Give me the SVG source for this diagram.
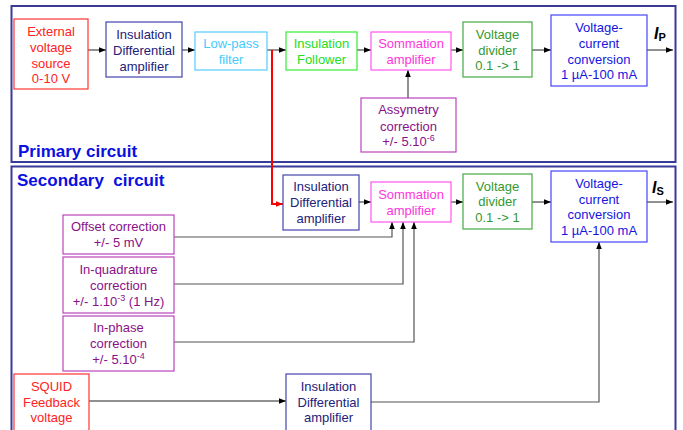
<svg xmlns="http://www.w3.org/2000/svg" width="683" height="430" viewBox="0 0 683 430">
<defs>
<marker id="ah" viewBox="0 0 10 10" refX="10" refY="5" markerWidth="7" markerHeight="7" markerUnits="userSpaceOnUse" orient="auto"><path d="M0,1 L10,5 L0,9 z" fill="#000"/></marker>
<marker id="ahr" viewBox="0 0 10 10" refX="10" refY="5" markerWidth="7" markerHeight="7" markerUnits="userSpaceOnUse" orient="auto"><path d="M0,1 L10,5 L0,9 z" fill="#e00"/></marker>
<style>
text{font-family:"Liberation Sans",Arial,sans-serif;font-size:13px;text-anchor:middle}
.box{fill:#fff;stroke-width:1.2}
.frame{fill:none;stroke:#3a3a9a;stroke-width:2}
.title{font-size:17px;font-weight:bold;fill:#0a10e0;text-anchor:start}
.c{fill:none;stroke:#555;stroke-width:1.2}
.ca{fill:none;stroke:#222;stroke-width:1;marker-end:url(#ah)}
.red{stroke:#f33}.tred{fill:#f22}
.navy{stroke:#4444aa}.tnavy{fill:#22227a}
.cyan{stroke:#5cf}.tcyan{fill:#4cf}
.lg{stroke:#3e3}.tlg{fill:#2d2}
.pink{stroke:#f5e}.tpink{fill:#f3d}
.dg{stroke:#4a4}.tdg{fill:#393}
.blue{stroke:#44f}.tblue{fill:#1515e0}
.pur{stroke:#b4b}.tpur{fill:#818}
.lbl{font-size:16px;font-weight:bold;font-style:italic;text-anchor:start}
.sub{font-size:11px;font-weight:bold;font-style:normal}
</style>
</defs>
<rect class="frame" x="11.5" y="6" width="664" height="156"/>
<rect class="frame" x="11.5" y="166.5" width="664" height="270"/>
<text class="title" x="18" y="157">Primary circuit</text>
<text class="title" x="17" y="186" xml:space="preserve">Secondary  circuit</text>

<g id="connectors">
<line class="ca" x1="88" y1="50" x2="106" y2="50"/>
<line class="ca" x1="182" y1="50" x2="195" y2="50"/>
<line class="ca" x1="267" y1="50" x2="286" y2="50"/>
<line class="ca" x1="357" y1="50" x2="371" y2="50"/>
<line class="ca" x1="451" y1="50" x2="463" y2="50"/>
<line class="ca" x1="532" y1="50" x2="551" y2="50"/>
<line class="ca" x1="647" y1="50" x2="673" y2="50"/>
<line class="ca" x1="408" y1="98" x2="408" y2="70"/>
<path d="M272,50 V204 H283" fill="none" stroke="#f00" stroke-width="2" marker-end="url(#ahr)"/>
<line class="ca" x1="359" y1="202" x2="371" y2="202"/>
<line class="ca" x1="451" y1="202" x2="463" y2="202"/>
<line class="ca" x1="532" y1="202" x2="551" y2="202"/>
<line class="ca" x1="647" y1="202" x2="673" y2="202"/>
<path class="c" d="M174,237 H392 V226"/>
<line class="ca" x1="392" y1="228" x2="392" y2="222"/>
<path class="c" d="M174,284 H403 V226"/>
<line class="ca" x1="403" y1="228" x2="403" y2="222"/>
<path class="c" d="M174,342 H414 V226" stroke="#888"/>
<line class="ca" x1="414" y1="228" x2="414" y2="222"/>
<line class="ca" x1="89" y1="401" x2="286" y2="401"/>
<path class="c" d="M371,402 H599 V246"/>
<line class="ca" x1="599" y1="248" x2="599" y2="242"/>
</g>

<g id="ext"><rect class="box red" x="14" y="19" width="74" height="70"/>
<text class="tred" x="51" y="35.5">External</text><text class="tred" x="51" y="51.5">voltage</text><text class="tred" x="51" y="67.5">source</text><text class="tred" x="51" y="83">0-10 V</text></g>
<g id="ida1"><rect class="box navy" x="106" y="22" width="76" height="55"/>
<text class="tnavy" x="144" y="39">Insulation</text><text class="tnavy" x="144" y="55">Differential</text><text class="tnavy" x="144" y="70.5">amplifier</text></g>
<g id="lpf"><rect class="box cyan" x="195" y="32" width="72" height="38"/>
<text class="tcyan" x="231" y="48">Low-pass</text><text class="tcyan" x="231" y="64">filter</text></g>
<g id="fol"><rect class="box lg" x="286" y="32" width="71" height="38"/>
<text class="tlg" x="321.5" y="48">Insulation</text><text class="tlg" x="321.5" y="64">Follower</text></g>
<g id="som1"><rect class="box pink" x="371" y="32" width="80" height="38"/>
<text class="tpink" x="411" y="48">Sommation</text><text class="tpink" x="411" y="64">amplifier</text></g>
<g id="vd1"><rect class="box dg" x="463" y="22" width="69" height="55"/>
<text class="tdg" x="497.5" y="39">Voltage</text><text class="tdg" x="497.5" y="54.5">divider</text><text class="tdg" x="497.5" y="70">0.1 -&gt; 1</text></g>
<g id="vc1"><rect class="box blue" x="551" y="15" width="96" height="71"/>
<text class="tblue" x="599" y="32">Voltage-</text><text class="tblue" x="599" y="47.5">current</text><text class="tblue" x="599" y="63.5">conversion</text><text class="tblue" x="599" y="79">1 µA-100 mA</text></g>
<g id="ip"><text class="lbl" x="654" y="39">I<tspan class="sub" dy="2">P</tspan></text></g>
<g id="asym"><rect class="box pur" x="361" y="98" width="95" height="54"/>
<text class="tpur" x="408.5" y="114">Assymetry</text><text class="tpur" x="408.5" y="130.5">correction</text><text class="tpur" x="408.5" y="146">+/- 5.10<tspan font-size="9" dy="-5">-6</tspan></text></g>

<g id="ida2"><rect class="box navy" x="283" y="175" width="76" height="55"/>
<text class="tnavy" x="321" y="191">Insulation</text><text class="tnavy" x="321" y="207">Differential</text><text class="tnavy" x="321" y="223">amplifier</text></g>
<g id="som2"><rect class="box pink" x="371" y="182" width="80" height="40"/>
<text class="tpink" x="411" y="199">Sommation</text><text class="tpink" x="411" y="214.5">amplifier</text></g>
<g id="vd2"><rect class="box dg" x="463" y="174" width="69" height="55"/>
<text class="tdg" x="497.5" y="190.5">Voltage</text><text class="tdg" x="497.5" y="206">divider</text><text class="tdg" x="497.5" y="222">0.1 -&gt; 1</text></g>
<g id="vc2"><rect class="box blue" x="551" y="171" width="96" height="71"/>
<text class="tblue" x="599" y="188">Voltage-</text><text class="tblue" x="599" y="204">current</text><text class="tblue" x="599" y="219">conversion</text><text class="tblue" x="599" y="234.5">1 µA-100 mA</text></g>
<g id="is"><text class="lbl" x="652" y="193">I<tspan class="sub" dy="2">S</tspan></text></g>
<g id="off"><rect class="box pur" x="63" y="215" width="111" height="39"/>
<text class="tpur" x="118.5" y="231">Offset correction</text><text class="tpur" x="118.5" y="247">+/- 5 mV</text></g>
<g id="quad"><rect class="box pur" x="63" y="257" width="111" height="56"/>
<text class="tpur" x="118.5" y="274">In-quadrature</text><text class="tpur" x="118.5" y="290">correction</text><text class="tpur" x="118.5" y="305.5">+/- 1.10<tspan font-size="9" dy="-5">-3</tspan><tspan dy="5"> (1 Hz)</tspan></text></g>
<g id="phase"><rect class="box pur" x="63" y="316" width="111" height="55"/>
<text class="tpur" x="118.5" y="332">In-phase</text><text class="tpur" x="118.5" y="348">correction</text><text class="tpur" x="118.5" y="363.5">+/- 5.10<tspan font-size="9" dy="-5">-4</tspan></text></g>
<g id="squid"><rect class="box red" x="14" y="374" width="75" height="60"/>
<text class="tred" x="51.5" y="391">SQUID</text><text class="tred" x="51.5" y="407">Feedback</text><text class="tred" x="51.5" y="422">voltage</text></g>
<g id="ida3"><rect class="box navy" x="286" y="374" width="85" height="60"/>
<text class="tnavy" x="328.5" y="391">Insulation</text><text class="tnavy" x="328.5" y="407">Differential</text><text class="tnavy" x="328.5" y="422">amplifier</text></g>
</svg>
